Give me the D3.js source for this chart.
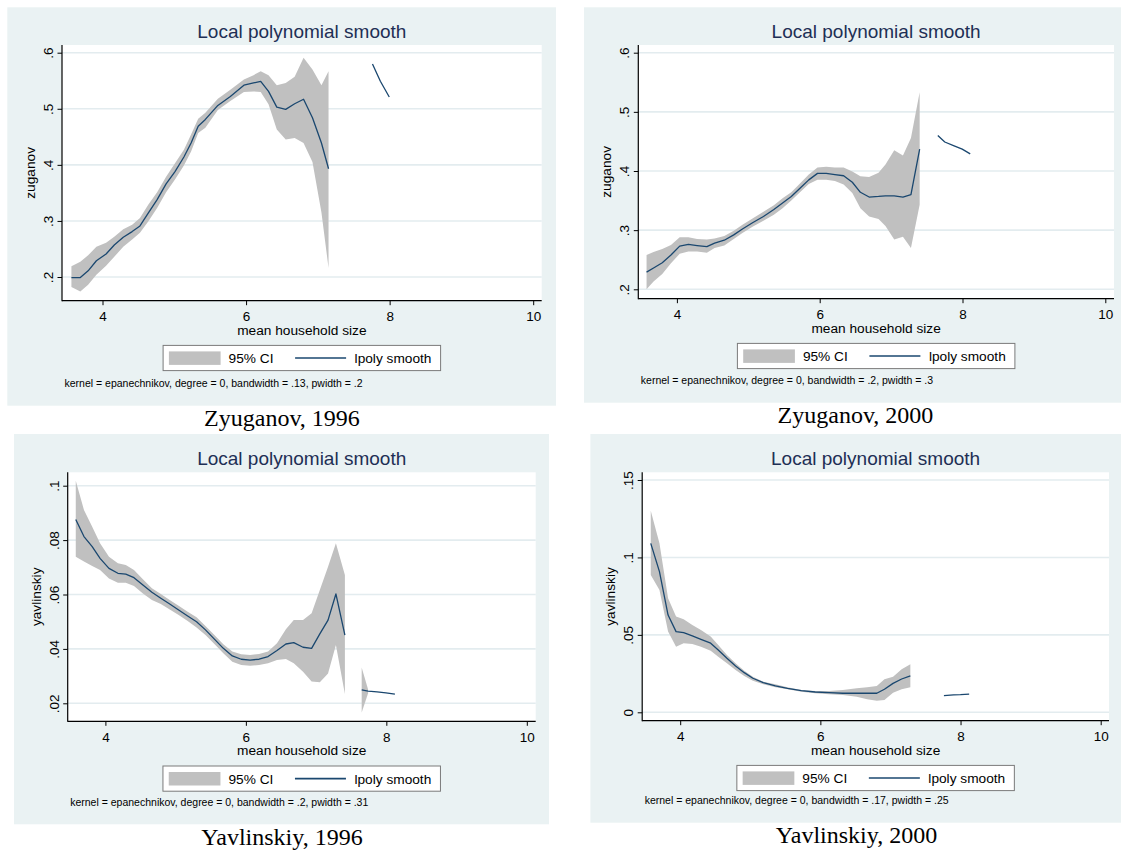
<!DOCTYPE html>
<html>
<head>
<meta charset="utf-8">
<script src="https://cdn.jsdelivr.net/npm/d3@7"></script>
<style>
  html, body { margin: 0; padding: 0; background: #ffffff; }
  svg { display: block; }
</style>
</head>
<body>
<svg id="chart" width="1122" height="853"></svg>
<script>
// ---------------- DATA ----------------
const xTicks = [4, 6, 8, 10];
const xTitle = "mean household size";
const chartTitle = "Local polynomial smooth";
const legendLabels = ["95% CI", "lpoly smooth"];

// Zyuganov, 1996
const zyu96_x   = [3.567,3.691,3.80,3.915,4.05,4.164,4.289,4.413,4.522,4.637,4.761,4.886,5.01,5.134,5.234,5.333,5.433,5.607,5.781,5.97,6.104,6.204,6.313,6.428,6.552,6.677,6.801,6.925,7.05,7.149];
const zyu96_fit = [0.199,0.199,0.211,0.229,0.241,0.257,0.271,0.281,0.291,0.314,0.338,0.366,0.388,0.414,0.439,0.469,0.481,0.506,0.522,0.542,0.546,0.549,0.531,0.503,0.499,0.509,0.517,0.484,0.439,0.393];
const zyu96_hi  = [0.219,0.227,0.239,0.254,0.261,0.272,0.285,0.293,0.305,0.329,0.351,0.379,0.403,0.427,0.454,0.482,0.493,0.518,0.534,0.552,0.560,0.567,0.560,0.542,0.546,0.557,0.591,0.570,0.542,0.567];
const zyu96_lo  = [0.182,0.174,0.186,0.204,0.220,0.236,0.254,0.267,0.279,0.299,0.323,0.351,0.374,0.399,0.424,0.457,0.466,0.498,0.514,0.530,0.531,0.530,0.508,0.463,0.445,0.448,0.439,0.405,0.315,0.216];
const zyu96_x2   = [7.761,7.871,7.995];
const zyu96_fit2 = [0.580,0.549,0.521];
const zyu96_yTicks  = [0.2,0.3,0.4,0.5,0.6];
const zyu96_yLabels = [".2",".3",".4",".5",".6"];

// Zyuganov, 2000
const zyu00_x   = [3.575,3.673,3.795,3.917,4.039,4.161,4.283,4.42,4.528,4.664,4.796,4.918,5.065,5.212,5.358,5.48,5.602,5.724,5.847,5.969,6.091,6.213,6.335,6.457,6.57,6.692,6.824,6.921,7.044,7.166,7.278,7.40];
const zyu00_fit = [0.229,0.236,0.245,0.258,0.273,0.276,0.274,0.272,0.278,0.283,0.292,0.302,0.313,0.323,0.335,0.346,0.357,0.371,0.385,0.396,0.396,0.394,0.392,0.381,0.364,0.356,0.357,0.358,0.358,0.356,0.360,0.437];
const zyu00_hi  = [0.258,0.263,0.268,0.275,0.288,0.288,0.285,0.284,0.286,0.290,0.299,0.309,0.320,0.331,0.342,0.354,0.364,0.379,0.394,0.406,0.407,0.406,0.406,0.399,0.391,0.390,0.397,0.411,0.435,0.426,0.456,0.533];
const zyu00_lo  = [0.200,0.213,0.226,0.244,0.260,0.264,0.264,0.262,0.270,0.274,0.285,0.295,0.306,0.316,0.326,0.337,0.350,0.364,0.378,0.385,0.385,0.383,0.377,0.363,0.337,0.323,0.319,0.307,0.284,0.289,0.270,0.343];
const zyu00_x2   = [7.654,7.752,7.874,7.996,8.108];
const zyu00_fit2 = [0.460,0.449,0.443,0.437,0.429];
const zyu00_yTicks  = [0.2,0.3,0.4,0.5,0.6];
const zyu00_yLabels = [".2",".3",".4",".5",".6"];

// Yavlinskiy, 1996
const yav96_x   = [3.578,3.695,3.812,3.924,4.051,4.178,4.29,4.407,4.534,4.662,4.789,4.916,5.043,5.171,5.298,5.425,5.552,5.679,5.807,5.934,6.061,6.188,6.316,6.443,6.57,6.682,6.814,6.936,7.053,7.17,7.282,7.41];
const yav96_fit = [0.0876,0.0813,0.0776,0.0733,0.0696,0.0678,0.0675,0.0662,0.0635,0.0608,0.0586,0.0565,0.0543,0.0521,0.0500,0.0470,0.0436,0.0402,0.0374,0.0362,0.0359,0.0362,0.0372,0.0394,0.0418,0.0423,0.0406,0.0402,0.0455,0.0506,0.0602,0.0451];
const yav96_hi  = [0.1018,0.0911,0.0849,0.0788,0.0739,0.0715,0.0708,0.0690,0.0656,0.0623,0.0602,0.0580,0.0559,0.0537,0.0516,0.0484,0.0451,0.0417,0.0390,0.0380,0.0378,0.0381,0.0390,0.0421,0.0472,0.0506,0.0506,0.0531,0.0617,0.0702,0.0788,0.0672];
const yav96_lo  = [0.0739,0.0721,0.0705,0.0690,0.0659,0.0643,0.0643,0.0631,0.0604,0.0580,0.0565,0.0545,0.0525,0.0503,0.0479,0.0451,0.0418,0.0384,0.0353,0.0341,0.0338,0.0341,0.0347,0.0359,0.0363,0.0347,0.0316,0.0280,0.0277,0.0310,0.0414,0.0234];
const yav96_x2   = [7.649,7.74,7.868,7.995,8.122];
const yav96_fit2 = [0.0249,0.0245,0.0242,0.0238,0.0234];
const yav96_hi2  = [0.0332,0.0251,null,null,null];
const yav96_lo2  = [0.0166,0.0237,null,null,null];
const yav96_yTicks  = [0.02,0.04,0.06,0.08,0.1];
const yav96_yLabels = [".02",".04",".06",".08",".1"];

// Yavlinskiy, 2000
const yav00_x   = [3.58,3.704,3.827,3.941,4.049,4.173,4.296,4.435,4.543,4.667,4.79,4.914,5.037,5.185,5.358,5.531,5.728,5.926,6.123,6.321,6.519,6.667,6.805,6.914,7.037,7.16,7.284];
const yav00_fit = [0.1091,0.0908,0.0628,0.0521,0.0514,0.0493,0.0471,0.0446,0.0402,0.0349,0.0299,0.0256,0.0220,0.0192,0.0170,0.0155,0.0140,0.0131,0.0127,0.0123,0.0123,0.0123,0.0123,0.0149,0.0187,0.0215,0.0235];
const yav00_hi  = [0.1302,0.1091,0.0736,0.0618,0.0601,0.0564,0.0532,0.0489,0.0435,0.0370,0.0316,0.0269,0.0230,0.0198,0.0181,0.0161,0.0144,0.0138,0.0138,0.0144,0.0155,0.0161,0.0170,0.0213,0.0230,0.0278,0.0310];
const yav00_lo  = [0.0887,0.0790,0.0521,0.0424,0.0446,0.0441,0.0424,0.0398,0.0359,0.0316,0.0273,0.0235,0.0204,0.0181,0.0161,0.0149,0.0133,0.0123,0.0116,0.0112,0.0101,0.0084,0.0075,0.0080,0.0127,0.0149,0.0161];
const yav00_x2   = [7.763,7.901,8.0,8.123];
const yav00_fit2 = [0.0108,0.0112,0.0114,0.0118];
const yav00_yTicks  = [0,0.05,0.1,0.15];
const yav00_yLabels = ["0",".05",".1",".15"];

// ---------------- STYLE / LAYOUT ----------------
const SANS = "'Liberation Sans', Arial, sans-serif";
const SERIF = "'Liberation Serif', 'Times New Roman', serif";
const BG = "#eaf2f3";
const GRID = "#e3ecef";
const CI_FILL = "#c0c0c0";
const LINE = "#1a476f";
const TITLE_COLOR = "#1e2f55";

const panels = [
  { bg:[7.3,7.3,556,405.7], plot:[62,45,541.7,300.7], xPix:[102.5,533.2], yMap:[0.2,277,0.6,52.7],
    yTicks:zyu96_yTicks, yLabels:zyu96_yLabels, yTitle:"zuganov",
    x:zyu96_x, fit:zyu96_fit, lo:zyu96_lo, hi:zyu96_hi, x2:zyu96_x2, fit2:zyu96_fit2, lo2:null, hi2:null,
    note:"kernel = epanechnikov, degree = 0, bandwidth = .13, pwidth = .2", noteY:387,
    caption:"Zyuganov, 1996", capX:282, capY:426, titleY:37.5 },
  { bg:[584,7.3,1121,402.7], plot:[638.3,45,1114,298.7], xPix:[676.9,1105.3], yMap:[0.2,289.3,0.6,52.7],
    yTicks:zyu00_yTicks, yLabels:zyu00_yLabels, yTitle:"zuganov",
    x:zyu00_x, fit:zyu00_fit, lo:zyu00_lo, hi:zyu00_hi, x2:zyu00_x2, fit2:zyu00_fit2, lo2:null, hi2:null,
    note:"kernel = epanechnikov, degree = 0, bandwidth = .2, pwidth = .3", noteY:384.4,
    caption:"Zyuganov, 2000", capX:855.5, capY:422.8, titleY:37.5 },
  { bg:[14,434,549,824.3], plot:[67.7,472.3,535.7,721.3], xPix:[105.4,526.8], yMap:[0.02,703.3,0.1,485.7],
    yTicks:yav96_yTicks, yLabels:yav96_yLabels, yTitle:"yavlinskiy",
    x:yav96_x, fit:yav96_fit, lo:yav96_lo, hi:yav96_hi, x2:yav96_x2, fit2:yav96_fit2, lo2:yav96_lo2, hi2:yav96_hi2,
    note:"kernel = epanechnikov, degree = 0, bandwidth = .2, pwidth = .31", noteY:806,
    caption:"Yavlinskiy, 1996", capX:282, capY:844.5, titleY:464.5 },
  { bg:[590.4,434,1121,822.7], plot:[642.2,472.3,1109,720.7], xPix:[680.2,1100.7], yMap:[0,712.3,0.15,480],
    yTicks:yav00_yTicks, yLabels:yav00_yLabels, yTitle:"yavlinskiy",
    x:yav00_x, fit:yav00_fit, lo:yav00_lo, hi:yav00_hi, x2:yav00_x2, fit2:yav00_fit2, lo2:null, hi2:null,
    note:"kernel = epanechnikov, degree = 0, bandwidth = .17, pwidth = .25", noteY:804.4,
    caption:"Yavlinskiy, 2000", capX:856.5, capY:842.8, titleY:464.5 }
];

const svg = d3.select("#chart");

function drawPanel(p) {
  const g = svg.append("g");
  const [bx0, by0, bx1, by1] = p.bg;
  const [px0, py0, px1, py1] = p.plot;

  g.append("rect").attr("x", bx0).attr("y", by0).attr("width", bx1 - bx0).attr("height", by1 - by0)
    .attr("fill", BG);
  g.append("rect").attr("x", px0).attr("y", py0).attr("width", px1 - px0).attr("height", py1 - py0)
    .attr("fill", "#ffffff");

  const xs = d3.scaleLinear().domain([4, 10]).range(p.xPix);
  const ys = d3.scaleLinear().domain([p.yMap[0], p.yMap[2]]).range([p.yMap[1], p.yMap[3]]);

  // gridlines
  g.append("g").selectAll("line").data(p.yTicks).join("line")
    .attr("x1", px0).attr("x2", px1)
    .attr("y1", d => ys(d)).attr("y2", d => ys(d))
    .attr("stroke", GRID).attr("stroke-width", 1.6);

  const rows = p.x.map((v, i) => ({ x: v, y: p.fit[i], lo: p.lo[i], hi: p.hi[i] }));
  const rows2 = p.x2.map((v, i) => ({ x: v, y: p.fit2[i],
    lo: p.lo2 ? p.lo2[i] : null, hi: p.hi2 ? p.hi2[i] : null }));

  const area = d3.area().defined(d => d.lo != null && d.hi != null)
    .x(d => xs(d.x)).y0(d => ys(d.lo)).y1(d => ys(d.hi));
  const line = d3.line().x(d => xs(d.x)).y(d => ys(d.y));

  g.append("path").datum(rows).attr("d", area).attr("fill", CI_FILL);
  if (p.lo2) g.append("path").datum(rows2).attr("d", area).attr("fill", CI_FILL);
  g.append("path").datum(rows).attr("d", line).attr("fill", "none")
    .attr("stroke", LINE).attr("stroke-width", 1.3).attr("stroke-linejoin", "round");
  g.append("path").datum(rows2).attr("d", line).attr("fill", "none")
    .attr("stroke", LINE).attr("stroke-width", 1.3).attr("stroke-linejoin", "round");

  // axes
  const xAxis = d3.axisBottom(xs).tickValues(xTicks).tickFormat(d3.format("d"))
    .tickSizeInner(4.5).tickSizeOuter(0);
  const xg = g.append("g").attr("transform", `translate(0,${py1})`).call(xAxis);
  xg.select(".domain").remove();
  xg.selectAll(".tick line").attr("stroke", "#000").attr("stroke-width", 1);
  xg.selectAll(".tick text").attr("y", 20.5).attr("dy", 0)
    .attr("font-family", SANS).attr("font-size", 13.5).attr("fill", "#000");

  const yAxis = d3.axisLeft(ys).tickValues(p.yTicks).tickFormat((d, i) => p.yLabels[i])
    .tickSizeInner(4.5).tickSizeOuter(0);
  const yg = g.append("g").attr("transform", `translate(${px0},0)`).call(yAxis);
  yg.select(".domain").remove();
  yg.selectAll(".tick line").attr("stroke", "#000").attr("stroke-width", 1);
  yg.selectAll(".tick text").attr("x", 0).attr("y", -9).attr("dy", 0)
    .attr("transform", "rotate(-90)").attr("text-anchor", "middle")
    .attr("font-family", SANS).attr("font-size", 13.5).attr("fill", "#000");

  g.append("line").attr("x1", px0).attr("x2", px0).attr("y1", py0).attr("y2", py1 + 0.5)
    .attr("stroke", "#000").attr("stroke-width", 1.2);
  g.append("line").attr("x1", px0).attr("x2", px1).attr("y1", py1).attr("y2", py1)
    .attr("stroke", "#000").attr("stroke-width", 1.2);

  const cx = (px0 + px1) / 2;
  // title
  g.append("text").attr("x", cx).attr("y", p.titleY).attr("text-anchor", "middle")
    .attr("font-family", SANS).attr("font-size", 19).attr("fill", TITLE_COLOR).text(chartTitle);
  // axis titles
  g.append("text").attr("x", cx).attr("y", py1 + 34).attr("text-anchor", "middle")
    .attr("font-family", SANS).attr("font-size", 13.7).attr("fill", "#000").text(xTitle);
  g.append("text").attr("transform", `translate(${px0 - 27},${(py0 + py1) / 2}) rotate(-90)`)
    .attr("text-anchor", "middle").attr("font-family", SANS).attr("font-size", 13.7)
    .attr("fill", "#000").text(p.yTitle);

  // legend
  const lw = 277.5, lh = 25.2;
  const lx = cx - lw / 2, ly = py1 + 44.7;
  const lg = g.append("g").attr("transform", `translate(${lx},${ly})`);
  lg.append("rect").attr("x", 0).attr("y", 0).attr("width", lw).attr("height", lh)
    .attr("fill", "#fff").attr("stroke", "#7a7a7a").attr("stroke-width", 1);
  lg.append("rect").attr("x", 5.8).attr("y", 6).attr("width", 51.7).attr("height", 13.5)
    .attr("fill", CI_FILL);
  lg.append("text").attr("x", 65.5).attr("y", 18).attr("font-family", SANS).attr("font-size", 13.7)
    .attr("fill", "#000").text(legendLabels[0]);
  lg.append("line").attr("x1", 132).attr("x2", 183).attr("y1", lh / 2).attr("y2", lh / 2)
    .attr("stroke", LINE).attr("stroke-width", 1.6);
  lg.append("text").attr("x", 191.5).attr("y", 18).attr("font-family", SANS).attr("font-size", 13.7)
    .attr("fill", "#000").text(legendLabels[1]);

  // note
  g.append("text").attr("x", px0 + 2.5).attr("y", p.noteY).attr("font-family", SANS)
    .attr("font-size", 10.5).attr("fill", "#000").text(p.note);

  // caption
  svg.append("text").attr("x", p.capX).attr("y", p.capY).attr("text-anchor", "middle")
    .attr("font-family", SERIF).attr("font-size", 24).attr("fill", "#000").text(p.caption);
}

panels.forEach(drawPanel);
</script>
</body>
</html>
